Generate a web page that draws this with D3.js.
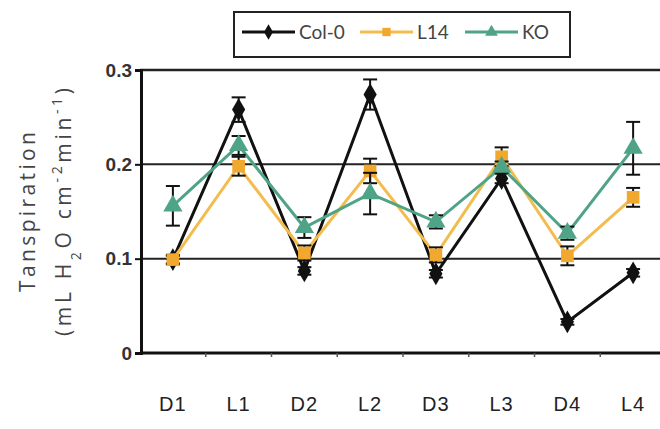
<!DOCTYPE html>
<html>
<head>
<meta charset="utf-8">
<script src="https://cdn.jsdelivr.net/npm/d3@7"></script>
<style>
  body { margin: 0; background: #fff; }
  svg { display: block; font-family: Lato, "Open Sans", sans-serif; }
</style>
</head>
<body>
<div class="canvas"></div>
<script>
/* transpiration by light/dark period */

var periods = ["D1","L1","D2","L2","D3","L3","D4","L4"];
var yTicks = [0, 0.1, 0.2, 0.3];

var col0 = [0.099, 0.258, 0.087, 0.274, 0.084, 0.185, 0.033, 0.085];
var col0Err = [0.004, 0.013, 0.004, 0.016, 0.004, 0.005, 0.003, 0.004];
var l14 = [0.099, 0.198, 0.106, 0.193, 0.104, 0.208, 0.103, 0.165];
var l14Err = [0.005, 0.010, 0.008, 0.013, 0.008, 0.010, 0.010, 0.010];
var ko = [0.156, 0.220, 0.133, 0.169, 0.139, 0.197, 0.127, 0.217];
var koErr = [0.021, 0.010, 0.011, 0.022, 0.007, 0.006, 0.007, 0.028];

var seriesNames = ["Col-0","L14","KO"];

var W = 660, H = 429;
var margin = {t:70, r:-6, b:76, l:140};

var svg = d3.select('.canvas')
    .append('svg')
    .attr('width', W)
    .attr('height', H);

var x = d3.scaleBand()
    .domain(periods)
    .range([margin.l, W - margin.r]);
var y = d3.scaleLinear()
    .domain([0, 0.3])
    .range([H - margin.b, margin.t]);

var series = [
    {name:seriesNames[0], values:col0, err:col0Err, color:'#111', line:'#111', shape:d3.symbolDiamond},
    {name:seriesNames[1], values:l14, err:l14Err, color:'#F0A82E', line:'#F3BC4E', shape:d3.symbolSquare},
    {name:seriesNames[2], values:ko, err:koErr, color:'#4FA387', line:'#4FA387', shape:d3.symbolTriangle}
];

// gridlines + frame top
svg.append('g').selectAll('line.grid')
    .data(yTicks.filter(function(d){return d > 0}))
    .enter()
    .append('line')
    .attr('class','grid')
    .attr('x1', margin.l)
    .attr('x2', W)
    .attr('y1', function(d){return y(d)})
    .attr('y2', function(d){return y(d)})
    .style('stroke', '#222')
    .style('stroke-width', function(d){return d === 0.3 ? 2.5 : 2});

// y axis
var yAxis = d3.axisLeft(y)
    .tickValues(yTicks)
    .tickSize(6)
    .tickPadding(3)
    .tickFormat(function(d){return d === 0 ? '0' : d3.format('.1f')(d)});
var gy = svg.append('g')
    .attr('transform', 'translate(' + (margin.l + 1) + ',0)')
    .call(yAxis);
gy.select('.domain').style('stroke', '#111').style('stroke-width', 3);
gy.selectAll('.tick line').style('stroke', '#111').style('stroke-width', 2);
gy.selectAll('.tick text')
    .style('font-size', '19px')
    .style('font-weight', 'bold')
    .style('fill', '#333');

// x axis
var xAxis = d3.axisBottom(x).tickSize(0).tickPadding(44);
var gx = svg.append('g')
    .attr('transform', 'translate(0,' + y(0) + ')')
    .call(xAxis);
gx.select('.domain').remove();
gx.append('line')
    .attr('x1', margin.l)
    .attr('x2', W)
    .style('stroke', '#111')
    .style('stroke-width', 3);
gx.selectAll('.tick text')
    .style('font-size', '20px')
    .style('letter-spacing', '1px')
    .style('fill', '#222');
// small ticks between categories
gx.selectAll('line.sep')
    .data(periods.slice(1))
    .enter()
    .append('line')
    .attr('class','sep')
    .attr('x1', function(d){return x(d)})
    .attr('x2', function(d){return x(d)})
    .attr('y1', 0)
    .attr('y2', 4)
    .style('stroke', '#555')
    .style('stroke-width', 1.5);

// y label
var lab = svg.append('text')
    .attr('transform', 'translate(35,212) rotate(-90)')
    .attr('text-anchor', 'middle')
    .attr('textLength', 160)
    .attr('lengthAdjust', 'spacing')
    .style('font-family', '"Open Sans", sans-serif')
    .style('fill', '#444')
    .style('font-size', '21px');
lab.text('Tanspiration');

var lab2 = svg.append('text')
    .attr('transform', 'translate(71,212) rotate(-90)')
    .attr('text-anchor', 'middle')
    .attr('textLength', 248)
    .attr('lengthAdjust', 'spacing')
    .style('font-family', '"Open Sans", sans-serif')
    .style('fill', '#444')
    .style('font-size', '21px');
lab2.append('tspan').text('(mL H');
lab2.append('tspan').attr('baseline-shift', 'sub').style('font-size', '14px').text('2');
lab2.append('tspan').text('O cm');
lab2.append('tspan').attr('baseline-shift', 'super').style('font-size', '14px').text('-2');
lab2.append('tspan').text('min');
lab2.append('tspan').attr('baseline-shift', 'super').style('font-size', '14px').text('-1');
lab2.append('tspan').text(')');

function cx(i){ return x(periods[i]) + x.bandwidth() / 2; }

var line = d3.line()
    .x(function(d, i){ return cx(i); })
    .y(function(d){ return y(d); });

series.forEach(function(s){
    var g = svg.append('g').attr('class', 'series');
    g.append('path')
        .datum(s.values)
        .attr('d', line)
        .style('fill', 'none')
        .style('stroke', s.line)
        .style('stroke-width', 3);

    // error bars
    var eb = g.selectAll('g.err')
        .data(s.values)
        .enter()
        .append('g')
        .attr('class', 'err');
    eb.append('line')
        .attr('x1', function(d, i){return cx(i)})
        .attr('x2', function(d, i){return cx(i)})
        .attr('y1', function(d, i){return y(d + s.err[i])})
        .attr('y2', function(d, i){return y(d - s.err[i])});
    eb.append('line')
        .attr('x1', function(d, i){return cx(i) - 7})
        .attr('x2', function(d, i){return cx(i) + 7})
        .attr('y1', function(d, i){return y(d + s.err[i])})
        .attr('y2', function(d, i){return y(d + s.err[i])});
    eb.append('line')
        .attr('x1', function(d, i){return cx(i) - 7})
        .attr('x2', function(d, i){return cx(i) + 7})
        .attr('y1', function(d, i){return y(d - s.err[i])})
        .attr('y2', function(d, i){return y(d - s.err[i])});
    eb.selectAll('line').style('stroke', '#111').style('stroke-width', 2);

    g.selectAll('path.pt')
        .data(s.values)
        .enter()
        .append('path')
        .attr('class', 'pt')
        .attr('transform', function(d, i){return 'translate(' + cx(i) + ',' + y(d) + ')'})
        .attr('d', d3.symbol().type(s.shape).size(s.shape === d3.symbolDiamond ? 150 : 160))
        .style('fill', s.color);
});

// legend
var lg = svg.append('g');
lg.append('rect')
    .attr('x', 234).attr('y', 12)
    .attr('width', 336).attr('height', 45)
    .style('fill', '#fff')
    .style('stroke', '#222')
    .style('stroke-width', 2);
var legX = [242, 360, 465];
series.forEach(function(s, i){
    var gi = lg.append('g').attr('transform', 'translate(' + legX[i] + ',32)');
    gi.append('line')
        .attr('x1', 0).attr('x2', 53)
        .style('stroke', s.line)
        .style('stroke-width', 3);
    gi.append('path')
        .attr('transform', 'translate(26.5,0)')
        .attr('d', d3.symbol().type(s.shape).size(70))
        .style('fill', s.color);
    gi.append('text')
        .attr('x', 57)
        .attr('y', 7)
        .style('font-size', '19px')
        .style('fill', '#444')
        .text(s.name);
});
</script>
</body>
</html>
